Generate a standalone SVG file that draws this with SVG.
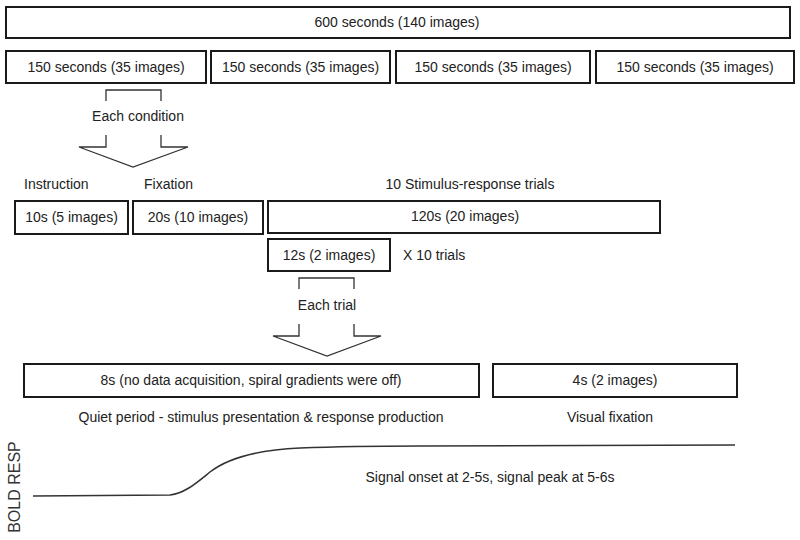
<svg xmlns="http://www.w3.org/2000/svg" width="800" height="540" viewBox="0 0 800 540">
<style>
.box{fill:#fff;stroke:#1a1a1a;stroke-width:2}
.t{font-family:"Liberation Sans",Arial,sans-serif;font-size:14px;fill:#222}
.m{text-anchor:middle}
.ln{fill:none;stroke:#333;stroke-width:1.3}
</style>
<rect width="800" height="540" fill="#fff"/>
<g id="total"><rect class="box" x="6" y="7" width="784" height="31"/><text class="t m" x="397" y="27">600 seconds (140 images)</text></g>
<g id="block1"><rect class="box" x="6" y="51" width="200" height="32"/><text class="t m" x="106" y="72">150 seconds (35 images)</text></g>
<g id="block2"><rect class="box" x="211" y="51" width="179" height="32"/><text class="t m" x="300.5" y="72">150 seconds (35 images)</text></g>
<g id="block3"><rect class="box" x="396" y="51" width="194" height="32"/><text class="t m" x="493" y="72">150 seconds (35 images)</text></g>
<g id="block4"><rect class="box" x="596" y="51" width="198" height="32"/><text class="t m" x="695" y="72">150 seconds (35 images)</text></g>
<g id="labels1">
<text class="t m" x="138" y="121">Each condition</text>
<text class="t" x="24" y="189">Instruction</text>
<text class="t" x="144" y="189">Fixation</text>
<text class="t m" x="470" y="189">10 Stimulus-response trials</text>
</g>
<g id="instruction"><rect class="box" x="15" y="201" width="113" height="33"/><text class="t m" x="71.5" y="222">10s (5 images)</text></g>
<g id="fixation"><rect class="box" x="133" y="201" width="130" height="33"/><text class="t m" x="198" y="222">20s (10 images)</text></g>
<g id="trials"><rect class="box" x="268" y="201" width="392" height="32"/><text class="t m" x="465" y="221">120s (20 images)</text></g>
<g id="trial"><rect class="box" x="268" y="239" width="122" height="32"/><text class="t m" x="329" y="260">12s (2 images)</text><text class="t" x="403" y="260">X 10 trials</text></g>
<g id="labels2"><text class="t m" x="327" y="310">Each trial</text></g>
<g id="quiet"><rect class="box" x="24" y="364" width="455" height="33"/><text class="t m" x="251" y="385">8s (no data acquisition, spiral gradients were off)</text></g>
<g id="visual"><rect class="box" x="493" y="364" width="244" height="33"/><text class="t m" x="615" y="385">4s (2 images)</text></g>
<g id="labels3">
<text class="t m" x="261" y="422">Quiet period - stimulus presentation &amp; response production</text>
<text class="t m" x="610" y="422">Visual fixation</text>
<text class="t m" x="490" y="482">Signal onset at 2-5s, signal peak at 5-6s</text>
<text x="19.5" y="487" transform="rotate(-90 19.5 487)" style="font-family:'Liberation Sans',Arial,sans-serif;font-size:16px;fill:#333;text-anchor:middle">BOLD RESP</text>
</g>
<g id="connectors">
<path class="ln" d="M106,101 V90 H161 V101"/>
<path class="ln" d="M106,135 V147 H79 L133,167 L188,147 H161 V135"/>
<path class="ln" d="M299,289 V278 H354 V289"/>
<path class="ln" d="M299,324 V336 H273 L327,356 L381,336 H354 V324"/>
<path fill="none" stroke="#333" stroke-width="1.6" d="M33,496 L170,495 C185,493 195,484 210,472 C228,458 255,450 300,448 C350,446 380,446 420,446 L735,445"/>
</g>
</svg>
